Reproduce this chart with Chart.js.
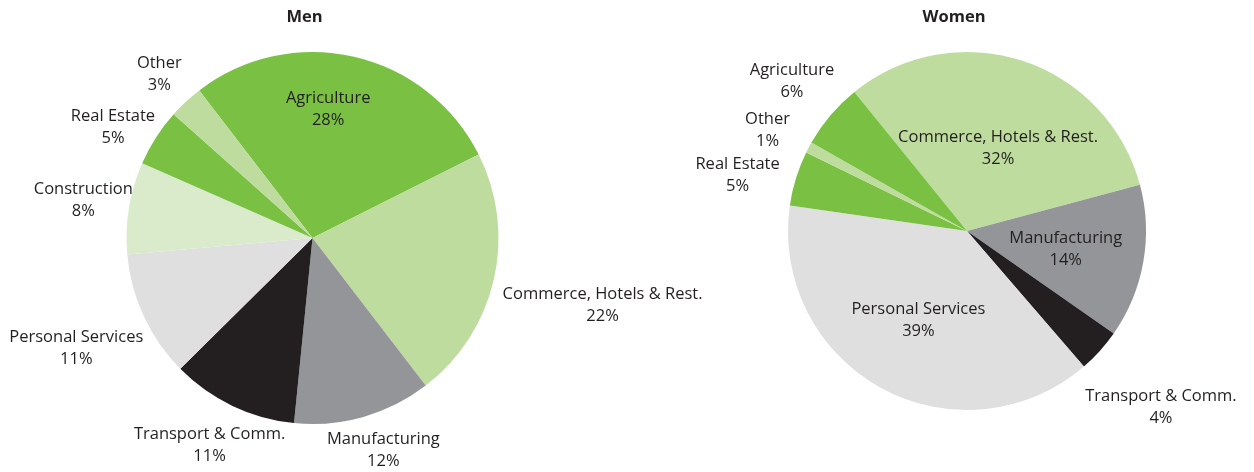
<!DOCTYPE html>
<html>
<head>
<meta charset="utf-8">
<script src="https://cdn.jsdelivr.net/npm/chart.js@4/dist/chart.umd.min.js"></script>
<style>
  body { margin: 0; background: #fff; }
  .wrap { position: relative; width: 1254px; height: 472px; }
  canvas { position: absolute; top: 0; }
  #men { left: 0; }
  #women { left: 627px; }
</style>
</head>
<body>
<div class="wrap">
  <canvas id="men" width="760" height="472"></canvas>
  <canvas id="women" width="627" height="472"></canvas>
</div>
<script>
const menSectors = ["Agriculture", "Commerce, Hotels & Rest.", "Manufacturing", "Transport & Comm.", "Personal Services", "Construction", "Real Estate", "Other"];
const menValues = [28, 22, 12, 11, 11, 8, 5, 3];

const womenSectors = ["Commerce, Hotels & Rest.", "Manufacturing", "Transport & Comm.", "Personal Services", "Real Estate", "Other", "Agriculture"];
const womenValues = [32, 14, 4, 39, 5, 1, 6];

const colorBySector = {
  "Agriculture": "#7ac143",
  "Commerce, Hotels & Rest.": "#bddc9d",
  "Manufacturing": "#939598",
  "Transport & Comm.": "#231f20",
  "Personal Services": "#dfdfe0",
  "Construction": "#daebcb",
  "Real Estate": "#7ac143",
  "Other": "#bddc9d",
};

// label placement: distance from centre (x radius) and angle nudge in degrees
const menLabelDist = [0.70, 1.60, 1.20, 1.24, 1.40, 1.25, 1.23, 1.21];
const menLabelShift = [-6, 0, -2.6, 1, 0, 0.4, -3.4, 0];
const womenLabelDist = [0.50, 0.56, 1.46, 0.565, 1.32, 1.25, 1.29];
const womenLabelShift = [2.3, 0, 0, 0, -3.3, -0.9, 0.4];

const textColor = "#231f20";
const labelFont = "16.5px 'Open Sans'";
const titleFont = "bold 16.5px 'Open Sans'";

// slice labels (name + percent) and the heading above each pie
const sliceLabels = {
  id: "sliceLabels",
  afterDatasetsDraw(chart, args, opts) {
    const ctx = chart.ctx;
    const meta = chart.getDatasetMeta(0);
    const values = chart.data.datasets[0].data;
    ctx.save();
    ctx.fillStyle = textColor;
    ctx.textAlign = "center";
    ctx.textBaseline = "middle";
    ctx.font = labelFont;
    meta.data.forEach(function (arc, i) {
      const mid = (arc.startAngle + arc.endAngle) / 2 + opts.shift[i] * Math.PI / 180;
      const d = arc.outerRadius * opts.dist[i];
      const x = arc.x + Math.cos(mid) * d;
      const y = arc.y + Math.sin(mid) * d;
      ctx.fillText(chart.data.labels[i], x, y - 10);
      ctx.fillText(values[i] + "%", x, y + 12);
    });
    ctx.font = titleFont;
    ctx.fillText(opts.title, meta.data[0].x + opts.titleShift, 17);
    ctx.restore();
  },
};

function makePie(id, title, titleShift, labels, values, rotation, padding, dist, shift) {
  return new Chart(document.getElementById(id), {
    type: "pie",
    data: {
      labels: labels,
      datasets: [
        {
          data: values,
          backgroundColor: labels.map((l) => colorBySector[l]),
          borderWidth: 0,
        },
      ],
    },
    options: {
      responsive: false,
      animation: false,
      events: [],
      rotation: rotation,
      layout: { padding: padding },
      plugins: {
        legend: { display: false },
        tooltip: { enabled: false },
        title: { display: false },
        sliceLabels: { dist: dist, shift: shift, title: title, titleShift: titleShift },
      },
    },
    plugins: [sliceLabels],
  });
}

makePie("men", "Men", -8, menSectors, menValues, -37.5,
  { left: 126.5, right: 261.5, top: 52, bottom: 48 }, menLabelDist, menLabelShift);
makePie("women", "Women", -13, womenSectors, womenValues, -39,
  { left: 161, right: 108, top: 52, bottom: 62 }, womenLabelDist, womenLabelShift);
</script>
</body>
</html>
